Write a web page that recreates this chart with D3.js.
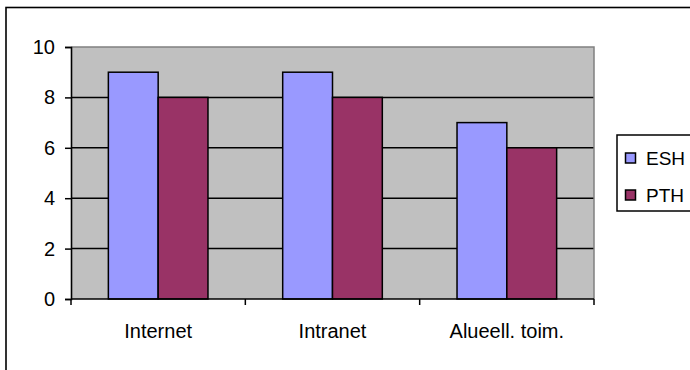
<!DOCTYPE html>
<html>
<head>
<meta charset="utf-8">
<script src="https://cdn.jsdelivr.net/npm/d3@7/dist/d3.min.js"></script>
<style>
  html, body { margin: 0; padding: 0; background: #fff; }
  svg { display: block; font-family: "Liberation Sans", Arial, sans-serif; }
</style>
</head>
<body>
<svg id="chart" width="690" height="370"></svg>
<script>
// Chart data
const categories = ["Internet", "Intranet", "Alueell. toim."];
const seriesNames = ["ESH", "PTH"];
const eshValues = [9, 9, 7];
const pthValues = [8, 8, 6];
const yTicks = [0, 2, 4, 6, 8, 10];
const seriesColors = ["#9999FF", "#993366"];

const svg = d3.select("#chart");

// Outer chart frame (runs off the right and bottom edges)
svg.append("rect")
  .attr("x", 6).attr("y", 7.5)
  .attr("width", 720).attr("height", 420)
  .attr("fill", "#fff").attr("stroke", "#000").attr("stroke-width", 1.6);

// Plot area
const plot = { left: 71, right: 594, top: 47, bottom: 299 };

const y = d3.scaleLinear().domain([0, 10]).range([plot.bottom, plot.top]);
const x0 = d3.scaleBand().domain(categories).range([plot.left, plot.right]).padding(0);
const bw = x0.bandwidth();
const gap = bw * 1.5 / 3.5; // 150% gap between groups
const x1 = d3.scaleBand().domain(seriesNames).range([gap / 2, bw - gap / 2]).padding(0);

svg.append("rect")
  .attr("x", plot.left).attr("y", plot.top)
  .attr("width", plot.right - plot.left).attr("height", plot.bottom - plot.top)
  .attr("fill", "#C0C0C0");

// Horizontal gridlines
svg.append("g")
  .selectAll("line")
  .data(yTicks.filter(d => d > 0 && d < 10))
  .join("line")
  .attr("x1", plot.left).attr("x2", plot.right)
  .attr("y1", d => y(d)).attr("y2", d => y(d))
  .attr("stroke", "#000").attr("stroke-width", 1.5);

// Plot area border (top and right)
svg.append("path")
  .attr("d", `M${plot.left},${plot.top}H${plot.right}V${plot.bottom}`)
  .attr("fill", "none").attr("stroke", "#808080").attr("stroke-width", 1.5);

// Bars
const rows = categories.map((c, i) => ({ cat: c, vals: [eshValues[i], pthValues[i]] }));
const groups = svg.append("g").selectAll("g")
  .data(rows).join("g")
  .attr("transform", d => `translate(${x0(d.cat)},0)`);

groups.selectAll("rect")
  .data(d => d.vals.map((v, j) => ({ name: seriesNames[j], v, j })))
  .join("rect")
  .attr("x", d => x1(d.name))
  .attr("y", d => y(d.v))
  .attr("width", x1.bandwidth())
  .attr("height", d => y(0) - y(d.v))
  .attr("fill", d => seriesColors[d.j])
  .attr("stroke", "#000").attr("stroke-width", 1.5);

// Y axis
const yAxis = d3.axisLeft(y).tickValues(yTicks).tickSize(6).tickPadding(10);
const gy = svg.append("g")
  .attr("transform", `translate(${plot.left},0)`)
  .call(yAxis);
gy.select(".domain").attr("stroke", "#000").attr("stroke-width", 1.6);
gy.selectAll(".tick line").attr("stroke", "#000").attr("stroke-width", 1.5);
gy.selectAll(".tick text")
  .attr("font-size", 20).attr("fill", "#000")
  .attr("font-family", "Liberation Sans, Arial, sans-serif");

// X axis: ticks sit at category boundaries
const boundaries = d3.range(categories.length + 1).map(i => plot.left + i * bw);
const gx = svg.append("g");
gx.append("line")
  .attr("x1", plot.left).attr("x2", plot.right)
  .attr("y1", plot.bottom).attr("y2", plot.bottom)
  .attr("stroke", "#000").attr("stroke-width", 1.6);
gx.selectAll("line.tk")
  .data(boundaries).join("line").attr("class", "tk")
  .attr("x1", d => d).attr("x2", d => d)
  .attr("y1", plot.bottom).attr("y2", plot.bottom + 6)
  .attr("stroke", "#000").attr("stroke-width", 1.5);
gx.selectAll("text")
  .data(categories).join("text")
  .attr("x", d => x0(d) + bw / 2)
  .attr("y", 338)
  .attr("text-anchor", "middle")
  .attr("font-size", 20).attr("fill", "#000")
  .text(d => d);

// Legend
const legend = svg.append("g");
legend.append("rect")
  .attr("x", 617).attr("y", 135)
  .attr("width", 100).attr("height", 76)
  .attr("fill", "#fff").attr("stroke", "#000").attr("stroke-width", 1.5);
const items = legend.selectAll("g.item")
  .data(seriesNames).join("g").attr("class", "item")
  .attr("transform", (d, i) => `translate(0,${158 + i * 37})`);
items.append("rect")
  .attr("x", 625.5).attr("y", -5)
  .attr("width", 10).attr("height", 10)
  .attr("fill", (d, i) => seriesColors[i])
  .attr("stroke", "#000").attr("stroke-width", 1.5);
items.append("text")
  .attr("x", 646).attr("y", 7)
  .attr("font-size", 19).attr("fill", "#000")
  .text(d => d);
</script>
</body>
</html>
